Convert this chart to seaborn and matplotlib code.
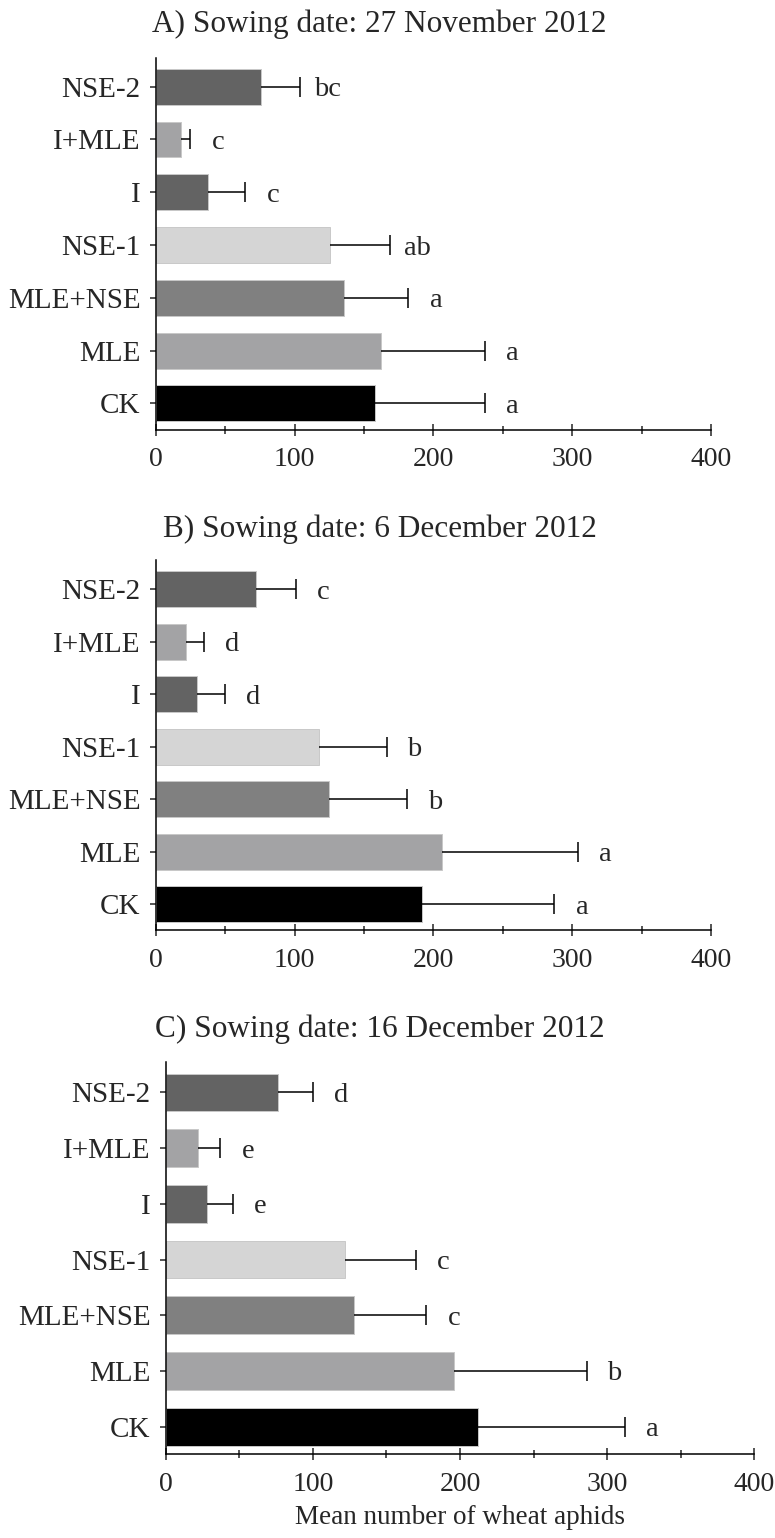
import numpy as np
import pandas as pd
import seaborn as sns
import matplotlib.pyplot as plt
from matplotlib.ticker import MultipleLocator

sns.set_style('ticks')
plt.rcParams['font.family'] = ['Liberation Serif', 'DejaVu Serif']

# ---- data ----
treatments = ['NSE-2', 'I+MLE', 'I', 'NSE-1', 'MLE+NSE', 'MLE', 'CK']
bar_colors = ['#636363', '#a2a2a6', '#636363', '#d5d5d5', '#808080', '#a2a2a6', '#000000']

titles = ['A) Sowing date: 27 November 2012',
          'B) Sowing date: 6 December 2012',
          'C) Sowing date: 16 December 2012']

mean_a = [76, 18.5, 38, 125.5, 136, 162, 158]
err_a = [28, 6.5, 26.5, 43, 46, 75, 79]
letters_a = ['bc', 'c', 'c', 'ab', 'a', 'a', 'a']

mean_b = [72, 21.5, 30, 117.5, 125, 206, 191.5]
err_b = [29, 13.5, 20, 49, 56, 98, 95.5]
letters_b = ['c', 'd', 'd', 'b', 'b', 'a', 'a']

mean_c = [76, 22, 28, 122, 128, 196, 212]
err_c = [24, 15, 17.6, 48, 49, 90, 100]
letters_c = ['d', 'e', 'e', 'c', 'c', 'b', 'a']

xlabel = 'Mean number of wheat aphids'

fig = plt.figure(figsize=(7.75, 15.38), dpi=100)

# axes rectangles in figure fraction
rects = [[0.2009, 0.7206, 0.7165, 0.2419],
         [0.2009, 0.3950, 0.7165, 0.2406],
         [0.2138, 0.0543, 0.7597, 0.2553]]
title_y = [1 - 32 / 1538, 1 - 537 / 1538, 1 - 1037 / 1538]

panels = [(mean_a, err_a, letters_a), (mean_b, err_b, letters_b), (mean_c, err_c, letters_c)]

for i, (means, errs, letters) in enumerate(panels):
    ax = fig.add_axes(rects[i])
    df = pd.DataFrame({'treatment': treatments, 'mean': means})
    sns.barplot(data=df, x='mean', y='treatment', hue='treatment', palette=bar_colors,
                order=treatments, hue_order=treatments, legend=False, width=0.68,
                edgecolor='#c8c8c8', linewidth=0.7, ax=ax)
    ypos = np.arange(len(treatments))
    eb = ax.errorbar(means, ypos, xerr=[np.zeros(len(errs)), errs], fmt='none',
                     ecolor='black', elinewidth=1.1, capsize=7, capthick=1.1)
    # one-sided bars: hide the cap sitting on the bar end
    eb[1][0].set_visible(False)
    for y, m, e, lab in zip(ypos, means, errs, letters):
        ax.annotate(lab, xy=(m + e, y), xytext=(20, 0), textcoords='offset points',
                    ha='center', va='center_baseline', fontsize=20.5)

    ax.set_xlim(0, 400)
    ax.set_ylim(6.5, -0.55)
    ax.xaxis.set_major_locator(MultipleLocator(100))
    ax.xaxis.set_minor_locator(MultipleLocator(50))
    ax.tick_params(axis='x', which='major', direction='inout', length=9, width=1.1,
                   labelsize=20, pad=8)
    ax.tick_params(axis='x', which='minor', direction='inout', length=6, width=1.1)
    ax.tick_params(axis='y', direction='out', length=4, width=1.1, labelsize=21, pad=7)
    ax.set_ylabel('')
    ax.set_xlabel('')
    sns.despine(ax=ax)
    for s in ['left', 'bottom']:
        ax.spines[s].set_linewidth(1.1)
        ax.spines[s].set_color('black')

    fig.text(0.49, title_y[i], titles[i], ha='center', va='baseline', fontsize=22.5)

    if i == 2:
        ax.set_xlabel(xlabel, fontsize=19.5, labelpad=6)

fig.savefig('out.png', dpi=100)
